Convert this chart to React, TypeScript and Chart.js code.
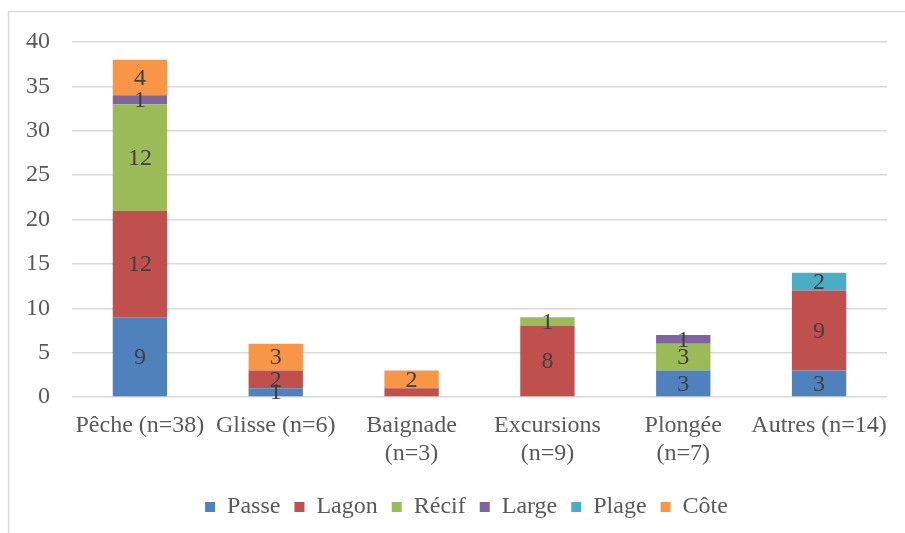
import React, { useEffect, useRef } from "react";
import { Chart, registerables } from "chart.js";

Chart.register(...registerables);

const categories: string[][] = [
  ["Pêche (n=38)"],
  ["Glisse (n=6)"],
  ["Baignade", "(n=3)"],
  ["Excursions", "(n=9)"],
  ["Plongée", "(n=7)"],
  ["Autres (n=14)"],
];

const seriesNames = ["Passe", "Lagon", "Récif", "Large", "Plage", "Côte"];
const seriesColors = ["#4F81BD", "#C0504D", "#9BBB59", "#8064A2", "#4BACC6", "#F79646"];

const passe = [9, 1, 0, 0, 3, 3];
const lagon = [12, 2, 1, 8, 0, 9];
const recif = [12, 0, 0, 1, 3, 0];
const large = [1, 0, 0, 0, 1, 0];
const plage = [0, 0, 0, 0, 0, 2];
const cote = [4, 3, 2, 0, 0, 0];

// labels that are not shown in the reference: [series index, category index]
const hiddenLabels: [number, number][] = [[1, 2]];

const yMin = 0;
const yMax = 40;
const yStep = 5;

const FONT = "'Liberation Serif', 'Times New Roman', serif";

const dataLabelsPlugin = {
  id: "segLabels",
  afterDatasetsDraw(chart: any) {
    const ctx = chart.ctx;
    ctx.save();
    ctx.font = `24px ${FONT}`;
    ctx.fillStyle = "#404040";
    ctx.textAlign = "center";
    ctx.textBaseline = "middle";
    chart.data.datasets.forEach((ds: any, di: number) => {
      const meta = chart.getDatasetMeta(di);
      if (meta.hidden) return;
      meta.data.forEach((el: any, i: number) => {
        const v = ds.data[i];
        if (!v) return;
        if (hiddenLabels.some(([a, b]) => a === di && b === i)) return;
        const props = el.getProps(["x", "y", "base"], true);
        ctx.fillText(String(v), props.x, (props.y + props.base) / 2 + 1);
      });
    });
    ctx.restore();
  },
};

const frameBorderPlugin = {
  id: "frameBorder",
  beforeDraw(chart: any) {
    const ctx = chart.ctx;
    ctx.save();
    ctx.strokeStyle = "#d9d9d9";
    ctx.lineWidth = 1.5;
    ctx.beginPath();
    ctx.moveTo(8.5, chart.height + 5);
    ctx.lineTo(8.5, 11.5);
    ctx.lineTo(chart.width + 5, 11.5);
    ctx.stroke();
    ctx.restore();
  },
};

// shift the legend slightly to the right, as in the reference
const legendShiftPlugin = {
  id: "legendShift",
  afterLayout(chart: any) {
    const lg = chart.legend;
    if (lg) {
      lg.left += 13;
      lg.right += 13;
    }
  },
};

export default function App() {
  const ref = useRef<HTMLCanvasElement | null>(null);

  useEffect(() => {
    if (!ref.current) return;
    const values = [passe, lagon, recif, large, plage, cote];
    const chart = new Chart(ref.current, {
      type: "bar",
      data: {
        labels: categories,
        datasets: seriesNames.map((name, i) => ({
          label: name,
          data: values[i],
          backgroundColor: seriesColors[i],
          borderWidth: 0,
          categoryPercentage: 0.4,
          barPercentage: 1,
        })),
      },
      options: {
        animation: false,
        responsive: true,
        maintainAspectRatio: false,
        layout: { padding: { left: 20, right: 18, top: 42, bottom: 4 } },
        plugins: {
          tooltip: { enabled: false },
          legend: {
            position: "bottom",
            align: "center",
            labels: {
              boxWidth: 10,
              boxHeight: 10,
              padding: 14,
              color: "#595959",
              font: { family: FONT, size: 24 },
            },
          },
        },
        scales: {
          x: {
            stacked: true,
            grid: { display: false, drawTicks: false },
            border: { display: false },
            ticks: {
              color: "#595959",
              font: { family: FONT, size: 24, lineHeight: 1.2 },
              padding: 14,
              maxRotation: 0,
              autoSkip: false,
            },
            afterFit(scale: any) {
              scale.height = 84;
            },
          },
          y: {
            stacked: true,
            min: yMin,
            max: yMax,
            grid: { color: "#d9d9d9", lineWidth: 1.5, drawTicks: false },
            border: { display: false },
            ticks: {
              stepSize: yStep,
              color: "#595959",
              font: { family: FONT, size: 24 },
              padding: 22,
            },
            afterFit(scale: any) {
              scale.width = 52;
            },
          },
        },
      },
      plugins: [frameBorderPlugin, dataLabelsPlugin, legendShiftPlugin],
    });
    return () => chart.destroy();
  }, []);

  return (
    <div style={{ position: "absolute", left: 0, top: 0, width: 905, height: 533, background: "#fff" }}>
      <canvas ref={ref} />
    </div>
  );
}
